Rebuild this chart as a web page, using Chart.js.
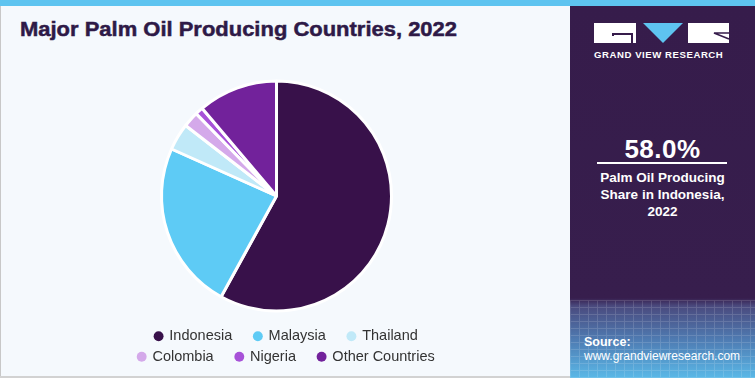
<!DOCTYPE html>
<html>
<head>
<meta charset="utf-8">
<script src="https://cdn.jsdelivr.net/npm/chart.js@4.4.1/dist/chart.umd.min.js"></script>
<style>
  html, body { margin: 0; padding: 0; }
  body { width: 755px; height: 378px; position: relative; overflow: hidden; background: #f5f9fd; }
  .topbar { position: absolute; left: 0; top: 0; width: 755px; height: 6px; background: #5ec4f0; }
  .left { position: absolute; left: 0; top: 6px; width: 569px; height: 370px; border-left: 1px solid #c8c8c8; }
  .bottomline { position: absolute; left: 0; top: 376px; width: 570px; height: 2px; background: #d2d2d2; }
  h1 { position: absolute; left: 20px; top: 17px; margin: 0; font: 900 21px "Liberation Sans", Arial, sans-serif;
       color: #2e1a47; white-space: nowrap; transform-origin: 0 0; -webkit-text-stroke: 0.5px #2e1a47; }
  #wrap { position: absolute; left: 0; top: 0; width: 570px; height: 378px; }
  .right { position: absolute; left: 570px; top: 6px; width: 185px; height: 372px;
           background: linear-gradient(to bottom, #361c4b 0, #371e4d 292px, #4a4a7e 300px, #4f7db4 335px, #5ab8e7 372px); }
  .mesh { position: absolute; left: 0; top: 294px; width: 185px; height: 78px; opacity: .15;
          background:
            repeating-linear-gradient(90deg, rgba(255,255,255,.9) 0 1px, transparent 1px 9px),
            repeating-linear-gradient(0deg, rgba(255,255,255,.9) 0 1px, transparent 1px 7px); }
  .brand { position: absolute; left: 24px; top: 43px; font: bold 9.6px "Liberation Sans", Arial, sans-serif;
           color: #fff; letter-spacing: .55px; white-space: nowrap; }
  .big { position: absolute; left: 0; width: 185px; top: 128px; text-align: center;
         font: bold 26px "Liberation Sans", Arial, sans-serif; color: #fff; letter-spacing: .5px; }
  .rule { position: absolute; left: 27px; top: 156px; width: 130px; height: 1.5px; background: #fff; }
  .desc { position: absolute; left: 0; width: 185px; top: 163px; text-align: center;
          font: bold 13.5px/17px "Liberation Sans Narrow", "Liberation Sans", Arial, sans-serif; color: #fff; }
  .src { position: absolute; left: 14px; top: 329px; font: 12px/14px "Liberation Sans Narrow", "Liberation Sans", Arial, sans-serif; color: #fff; }
  .src b { font-family: "Liberation Sans", Arial, sans-serif; font-size: 12.5px; }
</style>
</head>
<body>
<div class="left"></div>
<div class="bottomline"></div>
<h1 id="title">Major Palm Oil Producing Countries, 2022</h1>
<div id="wrap"><canvas id="pie" width="570" height="378"></canvas></div>
<div class="right">
  <div class="mesh"></div>
  <svg width="185" height="60" style="position:absolute;left:0;top:-6px">
    <rect x="24" y="23" width="42" height="20" fill="#fff"/>
    <path d="M43 36 V34 H62 V43" fill="none" stroke="#361c4b" stroke-width="2"/>
    <polygon points="73,23 113,23 93,43" fill="#5ec4f0"/>
    <rect x="118" y="23" width="41" height="20" fill="#fff"/>
    <path d="M159 33 H144 L159 39" fill="none" stroke="#361c4b" stroke-width="1.6"/>
  </svg>
  <div class="brand">GRAND VIEW RESEARCH</div>
  <div class="big">58.0%</div>
  <div class="rule"></div>
  <div class="desc">Palm Oil Producing<br>Share in Indonesia,<br>2022</div>
  <div class="src"><b>Source:</b><br>www.grandviewresearch.com</div>
</div>
<div class="topbar"></div>

<script>
// shares, clockwise from 12 o'clock
const countries = ['Indonesia', 'Malaysia', 'Thailand', 'Colombia', 'Nigeria', 'Other Countries'];
const shares = [58.0, 23.7, 3.8, 2.2, 1.1, 11.2];
const colors = ['#38114a', '#5ecbf5', '#c0e9f8', '#d4a9ea', '#a752d8', '#72229b'];

// stretch the title to the reference width
const t = document.getElementById('title');
t.style.transform = 'scaleX(' + (437 / t.getBoundingClientRect().width) + ')';

// the pie sits a little left of the legend's centre in the original
const shiftPie = {
  id: 'shiftPie',
  afterLayout(chart) {
    chart.chartArea.left -= 18;
    chart.chartArea.right -= 18;
  }
};

new Chart(document.getElementById('pie'), {
  type: 'pie',
  data: {
    labels: countries,
    datasets: [{
      data: shares,
      backgroundColor: colors,
      borderColor: '#ffffff',
      borderWidth: 3,
      radius: 115
    }]
  },
  options: {
    responsive: false,
    animation: false,
    layout: { padding: { top: 69, bottom: 4, left: 116.5, right: 97.5 } },
    plugins: {
      tooltip: { enabled: false },
      legend: {
        position: 'bottom',
        labels: {
          usePointStyle: true,
          pointStyle: 'circle',
          boxWidth: 7,
          boxHeight: 7,
          padding: 6,
          color: '#333333',
          font: { family: '"Liberation Sans", Arial, sans-serif', size: 14.5 },
          generateLabels(chart) {
            const items = Chart.overrides.pie.plugins.legend.labels.generateLabels(chart);
            items.forEach(it => { it.text = it.text + '\u00a0\u00a0\u00a0\u00a0'; it.lineWidth = 0; });
            return items;
          }
        }
      }
    }
  },
  plugins: [shiftPie]
});
</script>
</body>
</html>
